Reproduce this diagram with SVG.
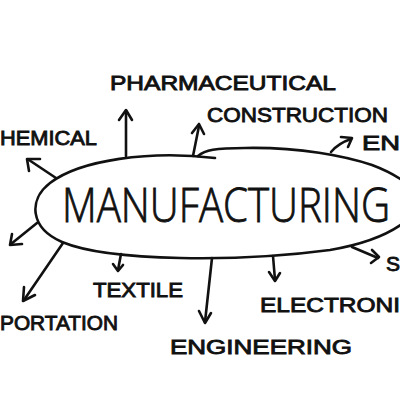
<svg xmlns="http://www.w3.org/2000/svg" width="400" height="400" viewBox="0 0 400 400">
<defs>
<style>
.ln{fill:none;stroke:#111;stroke-width:2.6;stroke-linecap:round;stroke-linejoin:round}
.ah{fill:none;stroke:#111;stroke-width:2.6;stroke-linecap:round;stroke-linejoin:round}
.lbl{font-family:"Liberation Sans",Arial,sans-serif;font-weight:400;font-size:21px;fill:#111;stroke:#111;stroke-width:0.9}
.big{font-family:"Open Sans","Liberation Sans",sans-serif;font-weight:300;font-size:40px;fill:#111;stroke:#111;stroke-width:0.7}
</style>
</defs>
<rect width="400" height="400" fill="#fff"/>
<g id="hub">
<path class="ln" d="M215,158 C150,150 80,160 50,183 C28,200 30,228 62,242 C110,262 240,262 330,250 C365,244 388,234 402,224"/>
<path class="ln" d="M198,156 C205,150 215,148 245,148 C300,147 345,156 372,165 C388,171 396,176 402,180"/>
<text class="big" transform="translate(62,222) scale(1,1.2)" x="0" y="0" textLength="328" lengthAdjust="spacingAndGlyphs">MANUFACTURING</text>
</g>
<g id="connectors">
<path class="ln" d="M126,156 L126,111"/><path class="ah" d="M119,120 L126,110 L132,120"/>
<path class="ln" d="M193,156 L199,126"/><path class="ah" d="M192,133 L199,124 L204,134"/>
<path class="ln" d="M331,152 C336,146 342,142 351,139"/><path class="ah" d="M341,137 L352,138 L348,147"/>
<path class="ln" d="M56,178 L29,160"/><path class="ah" d="M29,171 L27,159 L40,159"/>
<path class="ln" d="M37,223 L11,244"/><path class="ah" d="M12,234 L10,245 L22,244"/>
<path class="ln" d="M63,243 L24,300"/><path class="ah" d="M24,287 L23,301 L35,295"/>
<path class="ln" d="M121,254 L118,270"/><path class="ah" d="M113,264 L118,271 L123,265"/>
<path class="ln" d="M212,258 L205,322"/><path class="ah" d="M199,311 L205,323 L211,313"/>
<path class="ln" d="M273,256 L275,280"/><path class="ah" d="M269,272 L275,281 L280,273"/>
<path class="ln" d="M352,247 L378,258"/><path class="ah" d="M372,250 L379,257 L371,263"/>
</g>
<g id="labels">
<text class="lbl" x="110" y="90" textLength="226" lengthAdjust="spacingAndGlyphs">PHARMACEUTICAL</text>
<text class="lbl" x="207" y="122" textLength="181" lengthAdjust="spacingAndGlyphs">CONSTRUCTION</text>
<text class="lbl" x="362" y="150" textLength="38" lengthAdjust="spacingAndGlyphs">EN</text>
<text class="lbl" x="0" y="145" textLength="97" lengthAdjust="spacingAndGlyphs">HEMICAL</text>
<text class="lbl" x="93" y="297" textLength="90" lengthAdjust="spacingAndGlyphs">TEXTILE</text>
<text class="lbl" x="0" y="330" textLength="118" lengthAdjust="spacingAndGlyphs">PORTATION</text>
<text class="lbl" x="170" y="354" textLength="182" lengthAdjust="spacingAndGlyphs">ENGINEERING</text>
<text class="lbl" x="260" y="312" textLength="140" lengthAdjust="spacingAndGlyphs">ELECTRONI</text>
<text class="lbl" x="386" y="271">S</text>
</g>
</svg>
